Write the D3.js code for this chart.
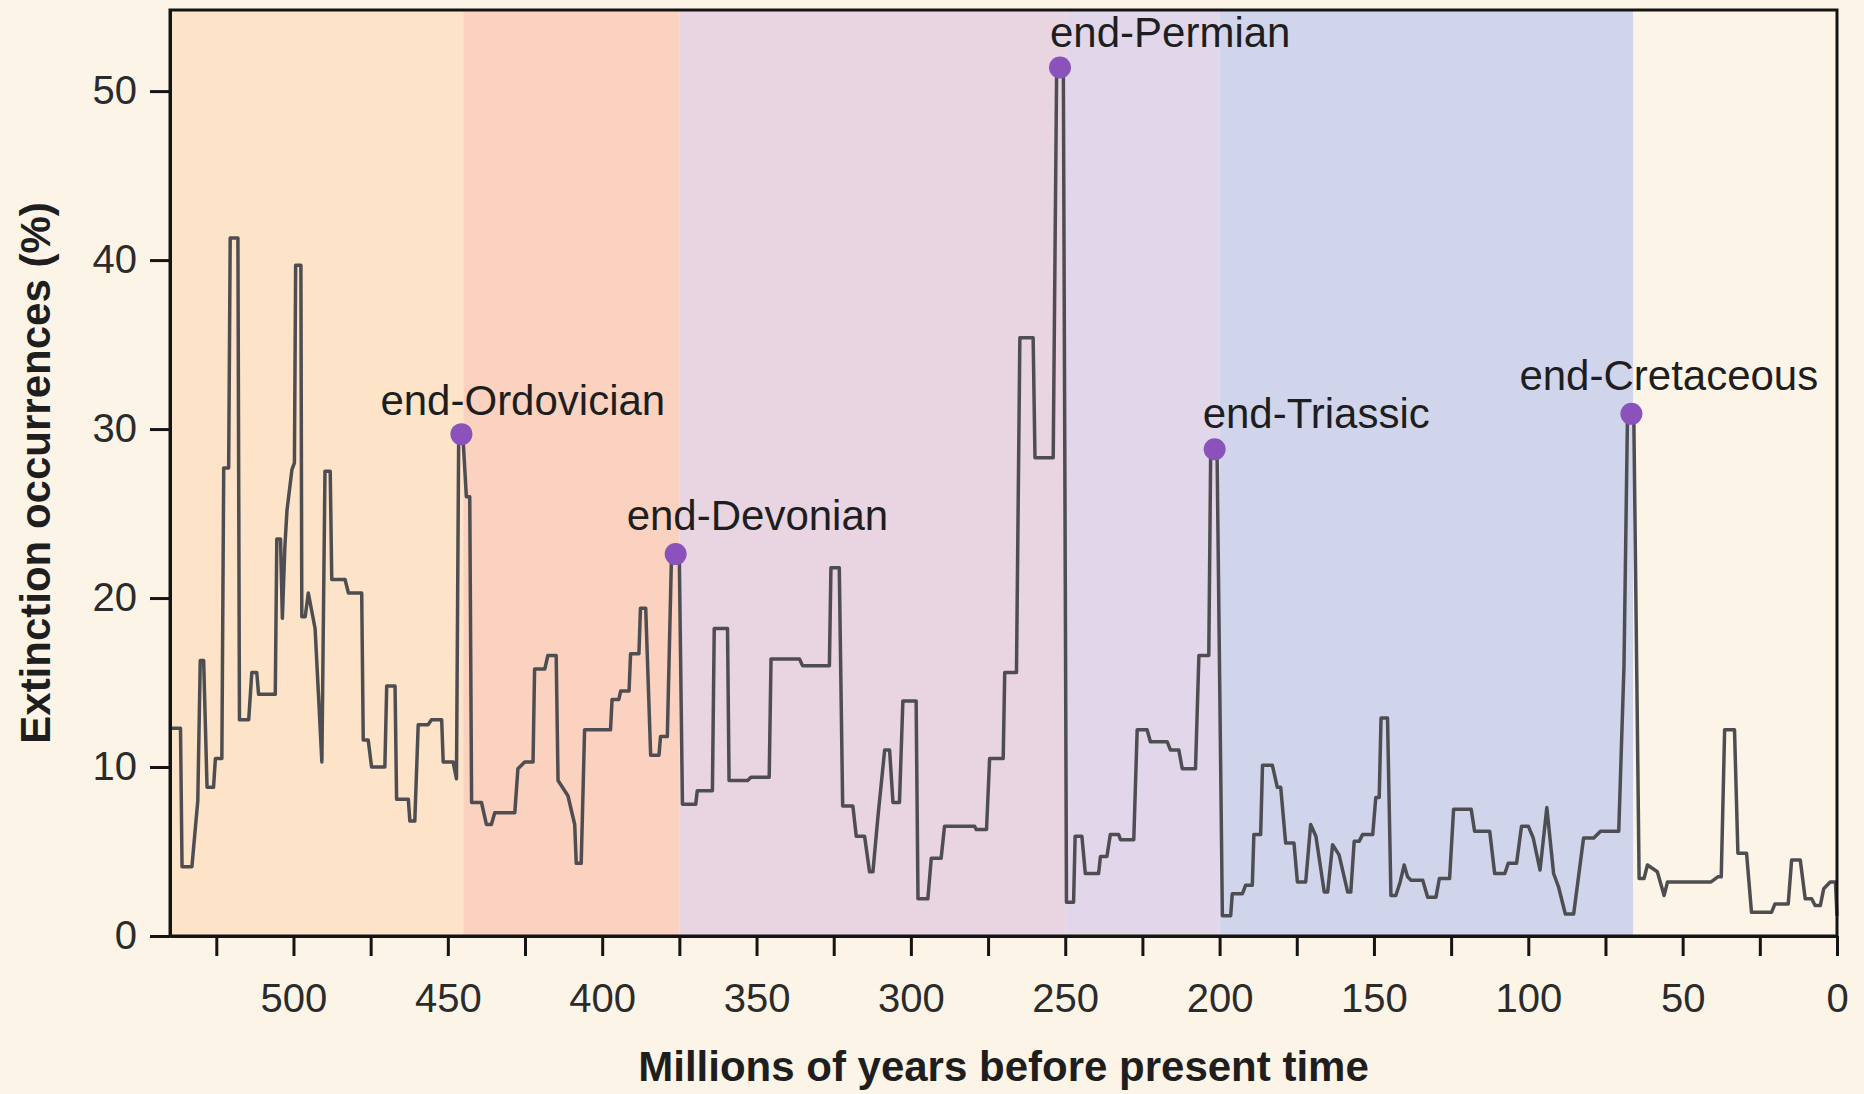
<!DOCTYPE html>
<html>
<head>
<meta charset="utf-8">
<script src="https://cdn.jsdelivr.net/npm/d3@7"></script>
<style>
  body { margin: 0; background: #fdf4e8; }
  svg text { font-family: "Liberation Sans", Arial, sans-serif; }
  .axis path, .axis line { stroke: #141414; stroke-width: 3; }
  .axis text { font-size: 40px; fill: #2b2b2b; }
  .axis-title { font-size: 42px; font-weight: bold; fill: #1e1e1e; }
  .event-label { font-size: 42px; fill: #1e1e1e; }
</style>
</head>
<body>
<svg id="chart" width="1864" height="1094"></svg>
<script>

/* DATA */

// millions of years ago, extinction occurrences (%)
const ages = [
  540, 536.6, 536.1, 532.9, 531, 530.2, 529.1, 528.0, 525.9, 525.3, 523.2, 522.6, 521.0, 520.5, 518.0,
  517.5, 514.5, 513.5, 511.9, 511.3, 505.9, 505.4, 504.2, 503.6, 502.8, 502.1, 500.5, 499.7, 499.3, 497.6,
  497.3, 496.2, 495.2, 493.0, 490.8, 489.8, 488.1, 487.6, 483.3, 482.2, 477.9, 477.4, 475.8, 474.7, 470.4,
  469.8, 467.1, 466.6, 462.8, 462.3, 460.7, 459.6, 456.4, 455.3, 452.0, 451.5, 448.3, 447.2, 446.5, 445.0,
  444.0, 442.9, 442.3, 439.1, 437.5, 435.9, 434.8, 428.3, 427.3, 425.1, 422.4, 421.9, 418.6, 417.6, 414.9,
  414.3, 411.1, 408.9, 408.4, 406.8, 405.7, 400.9, 397.3, 396.8, 394.6, 394.0, 391.3, 390.8, 388.1, 387.6,
  385.9, 384.3, 381.6, 381.1, 378.9, 377.6, 375.0, 374.0, 369.7, 369.2, 364.3, 363.7, 359.4, 358.9, 352.9,
  351.8, 345.9, 345.3, 336.1, 335.1, 326.4, 325.9, 323.2, 322.1, 318.8, 317.7, 315.0, 313.4, 312.3, 310.7,
  308.5, 306.9, 305.8, 303.7, 302.6, 298.3, 297.7, 294.5, 293.4, 290.2, 289.1, 279.4, 278.8, 275.5, 274.5,
  270.1, 269.6, 265.8, 264.7, 260.4, 259.8, 253.9, 252.8, 250.6, 249.6, 247.3, 246.8, 244.6, 243.5, 239.2,
  238.6, 236.5, 235.4, 232.7, 232.1, 227.8, 226.7, 223.5, 222.4, 217.0, 215.9, 213.2, 212.1, 207.8, 206.7,
  203.5, 202.9, 200.8, 199.1, 196.4, 195.9, 192.6, 191.6, 189.4, 188.9, 186.7, 186.1, 182.9, 181.3, 180.2,
  178.6, 175.9, 174.8, 172.1, 170.5, 168.8, 166.1, 165.0, 163.4, 161.3, 158.5, 157.5, 156.4, 154.8, 153.7,
  150.4, 149.4, 148.3, 147.7, 145.6, 144.5, 142.9, 141.5, 140.2, 139.1, 138.0, 134.2, 132.6, 129.9, 128.8,
  125.5, 124.2, 118.5, 117.4, 112.5, 110.9, 107.6, 106.5, 103.8, 102.2, 100.0, 98.4, 96.2, 94.0, 91.8,
  90.2, 88.0, 85.3, 82.1, 78.8, 76.6, 70.7, 69.0, 67.9, 65.8, 64.1, 62.5, 61.4, 58.2, 56.0,
  54.9, 40.8, 38.6, 37.5, 36.4, 33.2, 32.1, 29.3, 27.7, 21.2, 20.1, 15.8, 14.7, 11.9, 10.3,
  8.2, 7.1, 5.4, 4.3, 2.2, 0.5, 0
];

const extinction = [
  12.3, 12.3, 4.1, 4.1, 8.0, 16.3, 16.3, 8.8, 8.8, 10.5, 10.5, 27.7, 27.7, 41.3, 41.3,
  12.8, 12.8, 15.6, 15.6, 14.3, 14.3, 23.5, 23.5, 18.8, 23.0, 25.2, 27.6, 28.0, 39.7, 39.7,
  18.9, 18.9, 20.3, 18.2, 10.3, 27.5, 27.5, 21.1, 21.1, 20.3, 20.3, 11.6, 11.6, 10.0, 10.0,
  14.8, 14.8, 8.1, 8.1, 6.8, 6.8, 12.5, 12.5, 12.8, 12.8, 10.3, 10.3, 9.3, 29.2, 29.2,
  26.0, 26.0, 7.9, 7.9, 6.6, 6.6, 7.3, 7.3, 9.9, 10.3, 10.3, 15.8, 15.8, 16.6, 16.6,
  9.2, 8.3, 6.6, 4.3, 4.3, 12.2, 12.2, 12.2, 14.0, 14.0, 14.5, 14.5, 16.7, 16.7, 19.4,
  19.4, 10.7, 10.7, 11.8, 11.8, 22.1, 22.1, 7.8, 7.8, 8.6, 8.6, 18.2, 18.2, 9.2, 9.2,
  9.4, 9.4, 16.4, 16.4, 16.0, 16.0, 21.8, 21.8, 7.7, 7.7, 5.9, 5.9, 3.8, 3.8, 7.0,
  11.0, 11.0, 7.9, 7.9, 13.9, 13.9, 2.2, 2.2, 4.6, 4.6, 6.5, 6.5, 6.3, 6.3, 10.5,
  10.5, 15.6, 15.6, 35.4, 35.4, 28.3, 28.3, 50.9, 50.9, 2.0, 2.0, 5.9, 5.9, 3.7, 3.7,
  4.7, 4.7, 6.0, 6.0, 5.7, 5.7, 12.2, 12.2, 11.5, 11.5, 11.0, 11.0, 9.9, 9.9, 16.6,
  16.6, 28.3, 28.3, 1.2, 1.2, 2.5, 2.5, 3.0, 3.0, 6.0, 6.0, 10.1, 10.1, 8.8, 8.8,
  5.5, 5.5, 3.2, 3.2, 6.6, 5.9, 2.6, 2.6, 5.4, 4.8, 2.6, 2.6, 5.6, 5.6, 6.0,
  6.0, 8.2, 8.2, 12.9, 12.9, 2.4, 2.4, 3.2, 4.2, 3.5, 3.3, 3.3, 2.3, 2.3, 3.4,
  3.4, 7.5, 7.5, 6.2, 6.2, 3.7, 3.7, 4.3, 4.3, 6.5, 6.5, 5.8, 3.9, 7.6, 3.7,
  2.9, 1.3, 1.3, 5.8, 5.8, 6.2, 6.2, 16.0, 30.4, 30.4, 3.4, 3.4, 4.2, 3.8, 2.4,
  3.2, 3.2, 3.5, 3.5, 12.2, 12.2, 4.9, 4.9, 1.4, 1.4, 1.9, 1.9, 4.5, 4.5, 2.2,
  2.2, 1.8, 1.8, 2.8, 3.2, 3.2, 1.2
];

// the five mass extinctions
const eventNames = ["end-Ordovician", "end-Devonian", "end-Permian", "end-Triassic", "end-Cretaceous"];
const eventAges = [445.6, 376.2, 251.7, 201.6, 66.6];
const eventValues = [29.7, 22.6, 51.4, 28.8, 30.9];

// background bands (ages of the edges)
const bandEdges = [540, 445, 375, 250, 200, 66, 0];

const xTickValues = d3.range(525, -1, -25);
const yTickValues = [0, 10, 20, 30, 40, 50];

/* STYLE / LAYOUT */

const bandColors = ["#fde3c7", "#fbd2bf", "#e9d4e1", "#e2d6ea", "#d0d5eb", "#fdf4e8"];
const labelShift = {
  "end-Ordovician": [-81, -19],
  "end-Devonian": [-49, -24],
  "end-Permian": [-10, -20],
  "end-Triassic": [-12, -21],
  "end-Cretaceous": [-112, -24]
};

const margin = { top: 10, right: 27, bottom: 158, left: 170 };
const width = 1864;
const height = 1094;
const plotWidth = width - margin.left - margin.right;
const plotHeight = height - margin.top - margin.bottom;

let svg = d3.select("svg#chart");
svg.append("rect").attr("width", width).attr("height", height).attr("fill", "#fdf4e8");

const plotArea = svg.append("g")
  .attr("transform", "translate(" + margin.left + "," + margin.top + ")");

/* SCALES */

let xScale = d3.scaleLinear().domain([540, 0]).range([0, plotWidth]);
let yScale = d3.scaleLinear().domain([0, 54.8]).range([plotHeight, 0]);

/* BANDS */

let bands = [];
for (let i = 0; i < bandEdges.length - 1; i++) {
  bands.push({ from: bandEdges[i], to: bandEdges[i + 1], color: bandColors[i] });
}

plotArea.append("g").attr("id", "bands")
  .selectAll("rect")
  .data(bands)
  .join("rect")
    .attr("x", d => xScale(d.from))
    .attr("width", d => xScale(d.to) - xScale(d.from))
    .attr("y", 0)
    .attr("height", plotHeight)
    .attr("fill", d => d.color);

/* LINE */

let points = ages.map((a, i) => [a, extinction[i]]);

plotArea.append("path")
  .datum(points)
  .attr("fill", "none")
  .attr("stroke", "#4e4e52")
  .attr("stroke-width", 3.5)
  .attr("stroke-linejoin", "round")
  .attr("d", d3.line()
    .x(d => xScale(d[0]))
    .y(d => yScale(d[1])));

/* EVENTS */

let events = eventNames.map((n, i) => ({ name: n, age: eventAges[i], value: eventValues[i] }));

plotArea.append("g").attr("id", "dots")
  .selectAll("circle")
  .data(events)
  .join("circle")
    .attr("cx", d => xScale(d.age))
    .attr("cy", d => yScale(d.value))
    .attr("r", 11)
    .attr("fill", "#8c52bb");

plotArea.append("g").attr("id", "labels")
  .selectAll("text")
  .data(events)
  .join("text")
    .attr("class", "event-label")
    .attr("x", d => xScale(d.age) + labelShift[d.name][0])
    .attr("y", d => yScale(d.value) + labelShift[d.name][1])
    .text(d => d.name);

/* AXES */

let xAxis = d3.axisBottom(xScale)
  .tickValues(xTickValues)
  .tickFormat(d => d % 50 === 0 ? d : "")
  .tickSize(20)
  .tickSizeOuter(0)
  .tickPadding(28);

let yAxis = d3.axisLeft(yScale)
  .tickValues(yTickValues)
  .tickSize(20)
  .tickSizeOuter(0)
  .tickPadding(13);

plotArea.append("rect")
  .attr("width", plotWidth)
  .attr("height", plotHeight)
  .attr("fill", "none")
  .attr("stroke", "#141414")
  .attr("stroke-width", 3);

let xGroup = plotArea.append("g").attr("class", "axis")
  .attr("transform", "translate(0," + plotHeight + ")")
  .call(xAxis);
let yGroup = plotArea.append("g").attr("class", "axis").call(yAxis);

xGroup.attr("font-size", null).attr("font-family", null);
yGroup.attr("font-size", null).attr("font-family", null);

/* AXIS TITLES */

svg.append("text")
  .attr("class", "axis-title")
  .attr("x", margin.left + plotWidth / 2)
  .attr("y", 1081)
  .attr("text-anchor", "middle")
  .text("Millions of years before present time");

svg.append("text")
  .attr("class", "axis-title")
  .attr("transform", "translate(50," + (margin.top + plotHeight / 2) + ") rotate(-90)")
  .attr("text-anchor", "middle")
  .text("Extinction occurrences (%)");

</script>
</body>
</html>
